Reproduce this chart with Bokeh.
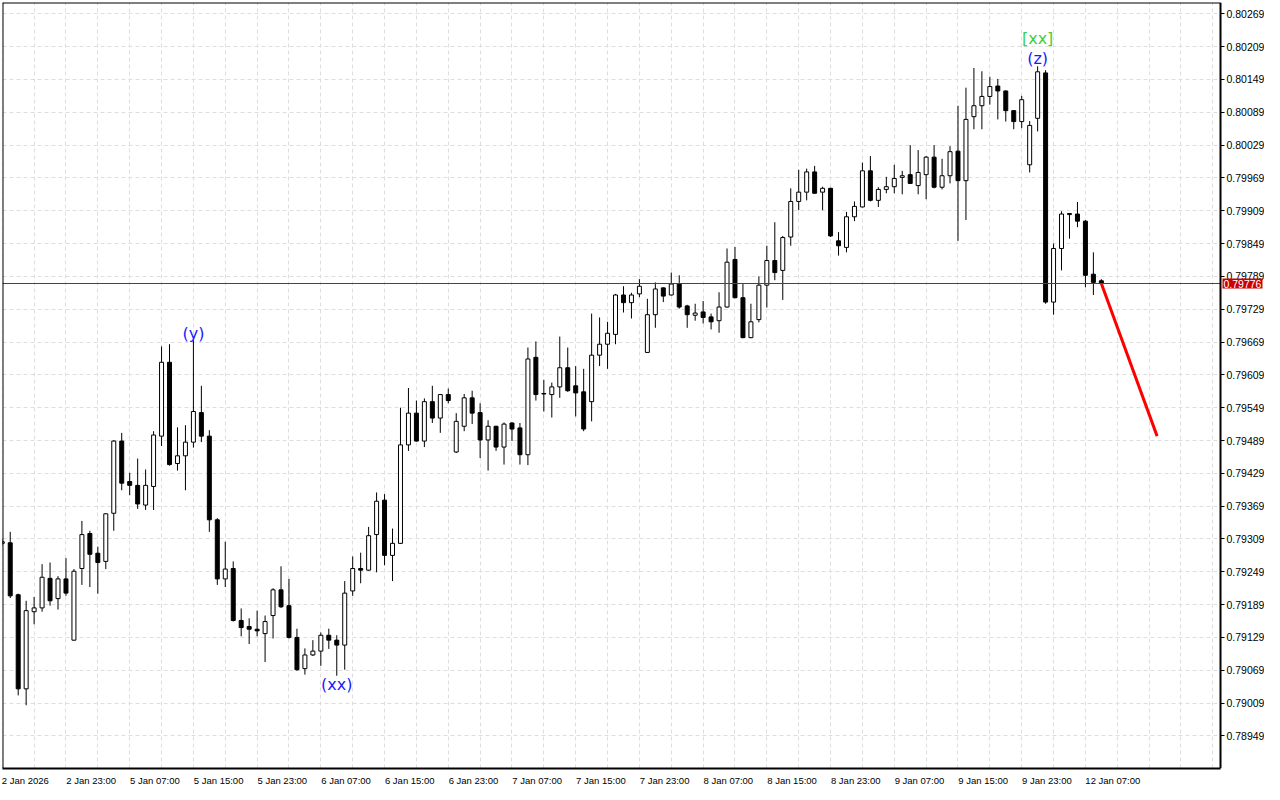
from bokeh.plotting import figure
from bokeh.models import ColumnDataSource, FixedTicker, Label, NumeralTickFormatter
from bokeh.core.properties import value
from bokeh.embed import file_html
from bokeh.resources import INLINE

# H1 bars, index 0 = 2 Jan 2026 15:00
opens = [0.79301, 0.79302, 0.79207, 0.79035, 0.79176, 0.79183, 0.79237, 0.79200, 0.79236, 0.79124,
         0.79255, 0.79319, 0.79283, 0.79268, 0.79356, 0.79488, 0.79414, 0.79407, 0.79371, 0.79405,
         0.79497, 0.79632, 0.79447, 0.79461, 0.79486, 0.79540, 0.79497, 0.79344, 0.79236, 0.79255,
         0.79160, 0.79149, 0.79144, 0.79136, 0.79169, 0.79216, 0.79187, 0.79129, 0.79072, 0.79097,
         0.79104, 0.79133, 0.79124, 0.79115, 0.79214, 0.79255, 0.79252, 0.79317, 0.79380, 0.79279,
         0.79301, 0.79481, 0.79539, 0.79488, 0.79560, 0.79530, 0.79573, 0.79468, 0.79515, 0.79567,
         0.79540, 0.79490, 0.79515, 0.79477, 0.79521, 0.79512, 0.79463, 0.79641, 0.79575, 0.79573,
         0.79587, 0.79622, 0.79589, 0.79578, 0.79560, 0.79645, 0.79665, 0.79683, 0.79755, 0.79741,
         0.79757, 0.79650, 0.79719, 0.79768, 0.79755, 0.79775, 0.79735, 0.79718, 0.79724, 0.79715,
         0.79708, 0.79733, 0.79820, 0.79750, 0.79677, 0.79710, 0.79773, 0.79818, 0.79800, 0.79861,
         0.79926, 0.79943, 0.79980, 0.79943, 0.79950, 0.79854, 0.79842, 0.79898, 0.79916, 0.79982,
         0.79928, 0.79948, 0.79953, 0.79970, 0.79975, 0.79955, 0.79975, 0.80007, 0.79952, 0.79973,
         0.80018, 0.79964, 0.80081, 0.80101, 0.80118, 0.80137, 0.80128, 0.80092, 0.80072, 0.79993,
         0.80078, 0.80161, 0.79742, 0.79840, 0.79902, 0.79903, 0.79890, 0.79793, 0.79781]
highs = [0.79310, 0.79322, 0.79209, 0.79196, 0.79203, 0.79263, 0.79266, 0.79241, 0.79274, 0.79254,
         0.79342, 0.79324, 0.79295, 0.79356, 0.79490, 0.79503, 0.79430, 0.79456, 0.79436, 0.79506,
         0.79661, 0.79665, 0.79513, 0.79517, 0.79672, 0.79589, 0.79508, 0.79347, 0.79304, 0.79268,
         0.79182, 0.79164, 0.79178, 0.79169, 0.79219, 0.79259, 0.79236, 0.79145, 0.79109, 0.79124,
         0.79138, 0.79145, 0.79133, 0.79232, 0.79277, 0.79284, 0.79331, 0.79394, 0.79391, 0.79328,
         0.79549, 0.79585, 0.79562, 0.79566, 0.79589, 0.79574, 0.79584, 0.79539, 0.79574, 0.79580,
         0.79557, 0.79526, 0.79516, 0.79522, 0.79522, 0.79521, 0.79659, 0.79670, 0.79600, 0.79595,
         0.79679, 0.79659, 0.79625, 0.79620, 0.79721, 0.79714, 0.79706, 0.79757, 0.79771, 0.79759,
         0.79784, 0.79748, 0.79778, 0.79769, 0.79796, 0.79791, 0.79737, 0.79739, 0.79744, 0.79721,
         0.79760, 0.79840, 0.79843, 0.79775, 0.79739, 0.79789, 0.79845, 0.79888, 0.79863, 0.79950,
         0.79984, 0.79986, 0.79991, 0.79953, 0.79951, 0.79870, 0.79907, 0.79926, 0.79997, 0.80009,
         0.79952, 0.79971, 0.79993, 0.79982, 0.80029, 0.80020, 0.80009, 0.80029, 0.80004, 0.80027,
         0.80101, 0.80134, 0.80170, 0.80164, 0.80154, 0.80150, 0.80129, 0.80093, 0.80119, 0.80073,
         0.80173, 0.80166, 0.79849, 0.79908, 0.79905, 0.79925, 0.79892, 0.79833, 0.79784]
lows = [0.79297, 0.79201, 0.79023, 0.79005, 0.79153, 0.79176, 0.79187, 0.79180, 0.79205, 0.79123,
        0.79225, 0.79221, 0.79209, 0.79254, 0.79324, 0.79398, 0.79389, 0.79364, 0.79362, 0.79362,
        0.79479, 0.79443, 0.79434, 0.79398, 0.79476, 0.79486, 0.79322, 0.79225, 0.79221, 0.79158,
        0.79131, 0.79117, 0.79131, 0.79084, 0.79127, 0.79183, 0.79127, 0.79068, 0.79061, 0.79095,
        0.79077, 0.79108, 0.79059, 0.79070, 0.79205, 0.79228, 0.79251, 0.79248, 0.79261, 0.79232,
        0.79300, 0.79470, 0.79487, 0.79477, 0.79521, 0.79503, 0.79557, 0.79466, 0.79506, 0.79519,
        0.79457, 0.79434, 0.79470, 0.79445, 0.79488, 0.79445, 0.79444, 0.79562, 0.79542, 0.79531,
        0.79567, 0.79578, 0.79533, 0.79506, 0.79524, 0.79625, 0.79620, 0.79665, 0.79723, 0.79712,
        0.79751, 0.79649, 0.79695, 0.79742, 0.79754, 0.79730, 0.79695, 0.79708, 0.79703, 0.79692,
        0.79686, 0.79732, 0.79749, 0.79676, 0.79676, 0.79705, 0.79732, 0.79782, 0.79746, 0.79845,
        0.79910, 0.79928, 0.79940, 0.79910, 0.79861, 0.79827, 0.79833, 0.79890, 0.79915, 0.79926,
        0.79916, 0.79941, 0.79941, 0.79939, 0.79958, 0.79939, 0.79930, 0.79950, 0.79948, 0.79959,
        0.79854, 0.79892, 0.80058, 0.80058, 0.80103, 0.80076, 0.80072, 0.80058, 0.80060, 0.79979,
        0.80054, 0.79739, 0.79719, 0.79800, 0.79858, 0.79879, 0.79769, 0.79755, 0.79775]
closes = [0.79304, 0.79205, 0.79035, 0.79178, 0.79183, 0.79239, 0.79196, 0.79236, 0.79210, 0.79250,
          0.79317, 0.79281, 0.79266, 0.79355, 0.79488, 0.79411, 0.79407, 0.79373, 0.79407, 0.79499,
          0.79632, 0.79445, 0.79461, 0.79486, 0.79542, 0.79497, 0.79344, 0.79236, 0.79254, 0.79160,
          0.79147, 0.79144, 0.79141, 0.79158, 0.79216, 0.79185, 0.79129, 0.79070, 0.79097, 0.79104,
          0.79133, 0.79124, 0.79115, 0.79210, 0.79255, 0.79252, 0.79315, 0.79378, 0.79279, 0.79301,
          0.79481, 0.79539, 0.79488, 0.79560, 0.79530, 0.79573, 0.79562, 0.79524, 0.79567, 0.79539,
          0.79490, 0.79515, 0.79477, 0.79519, 0.79510, 0.79463, 0.79638, 0.79573, 0.79574, 0.79587,
          0.79622, 0.79580, 0.79576, 0.79510, 0.79645, 0.79665, 0.79685, 0.79755, 0.79741, 0.79755,
          0.79771, 0.79719, 0.79766, 0.79753, 0.79775, 0.79733, 0.79719, 0.79722, 0.79714, 0.79706,
          0.79733, 0.79815, 0.79750, 0.79677, 0.79706, 0.79773, 0.79818, 0.79796, 0.79860, 0.79926,
          0.79943, 0.79980, 0.79941, 0.79950, 0.79863, 0.79845, 0.79898, 0.79917, 0.79982, 0.79928,
          0.79948, 0.79953, 0.79968, 0.79973, 0.79959, 0.79979, 0.80007, 0.79952, 0.79973, 0.80017,
          0.79964, 0.80076, 0.80101, 0.80118, 0.80136, 0.80128, 0.80092, 0.80072, 0.80112, 0.80065,
          0.80163, 0.79742, 0.79840, 0.79903, 0.79904, 0.79890, 0.79791, 0.79778, 0.79776]

x_tick_bars = [0, 8, 16, 24, 32, 40, 48, 56, 64, 72, 80, 88, 96, 104, 112, 120, 128, 136]
x_tick_labels = ["2 Jan 2026", "2 Jan 23:00", "5 Jan 07:00", "5 Jan 15:00", "5 Jan 23:00",
                 "6 Jan 07:00", "6 Jan 15:00", "6 Jan 23:00", "7 Jan 07:00", "7 Jan 15:00",
                 "7 Jan 23:00", "8 Jan 07:00", "8 Jan 15:00", "8 Jan 23:00", "9 Jan 07:00",
                 "9 Jan 15:00", "9 Jan 23:00", "12 Jan 07:00"]
y_ticks = [0.78949, 0.79009, 0.79069, 0.79129, 0.79189, 0.79249, 0.79309, 0.79369, 0.79429,
           0.79489, 0.79549, 0.79609, 0.79669, 0.79729, 0.79789, 0.79849, 0.79909, 0.79969,
           0.80029, 0.80089, 0.80149, 0.80209, 0.80269]
last_price = 0.79776
proj_x = [138, 145]
proj_y = [0.79776, 0.79497]
wave_text = ["(y)", "(xx)", "(z)", "[xx]"]
wave_x = [24, 42, 130, 130]
wave_y = [0.79685, 0.79043, 0.80188, 0.80224]
wave_color = ["#1a1aff", "#1a1aff", "#1a1aff", "#3ccf3c"]

n = len(opens)
idx = list(range(n))
up = [c >= o for o, c in zip(opens, closes)]
src = ColumnDataSource(dict(
    x=idx, high=highs, low=lows,
    top=[max(o, c) for o, c in zip(opens, closes)],
    bottom=[min(o, c) for o, c in zip(opens, closes)],
    fill=["white" if u else "black" for u in up],
))

# layout: chart area 1218 px wide, price scale drawn in the remaining 44 px of the frame
CW, FW, FH = 1218, 1262, 766
X0, XA = 0.03, 152.96                 # chart area in bars
px_per_bar = CW / (XA - X0)
X1 = X0 + FW / px_per_bar
Y0, Y1 = 0.788894, 0.802897

p = figure(frame_width=FW, frame_height=FH, x_range=(X0, X1), y_range=(Y0, Y1),
           y_axis_location="right", output_backend="svg", toolbar_location=None,
           min_border_left=2, min_border_top=2, min_border_right=0, min_border_bottom=0,
           background_fill_color="white", border_fill_color="white")
p.outline_line_color = None

# grids
p.xgrid.ticker = FixedTicker(ticks=list(range(0, 153, 4)))
for g in (p.xgrid, p.ygrid):
    g.grid_line_color = "#dedede"
    g.grid_line_dash = "4 3"
    g.grid_line_width = 1

# axes
label_pos = [round(b + (len(t) * 4.4 + 2) / 2 / px_per_bar, 3) for b, t in zip(x_tick_bars, x_tick_labels)]
yax = p.yaxis[0]
yax.fixed_location = XA
yax.ticker = FixedTicker(ticks=y_ticks)
yax.formatter = NumeralTickFormatter(format="0.00000")
xax = p.xaxis[0]
xax.ticker = FixedTicker(ticks=label_pos)
xax.major_label_overrides = {pos: t for pos, t in zip(label_pos, x_tick_labels)}
xax.bounds = (X0 - 1, XA)
for ax in (xax, yax):
    ax.axis_line_color = "black"
    ax.axis_line_width = 2
    ax.major_tick_line_color = "black"
    ax.major_tick_in = 0
    ax.major_tick_out = 4
    ax.minor_tick_line_color = None
    ax.major_label_text_font = "Liberation Sans"
    ax.major_label_text_color = "black"
    ax.major_label_standoff = 2
xax.major_label_text_font_size = "9.5px"
yax.major_label_text_font_size = "10.5px"
xax.major_tick_line_color = None

# candles
p.segment(x0="x", y0="low", x1="x", y1="high", source=src, line_color="black", line_width=1)
p.vbar(x="x", top="top", bottom="bottom", width=0.5, source=src,
       fill_color="fill", line_color="black", line_width=1)

# bid line
p.segment(x0=[X0], y0=[last_price], x1=[XA], y1=[last_price], line_color="#9a2020", line_width=1)

# projection
p.line(proj_x, proj_y, line_color="#ff0000", line_width=3)

# wave labels
p.text(x=wave_x, y=wave_y, text=wave_text, text_color=wave_color,
       text_font=value("DejaVu Sans"), text_font_size="16px",
       text_align="center", text_baseline="middle")

# chart border (top and left) and blank price-scale area
p.segment(x0=[X0, X0], y0=[Y1, Y0], x1=[XA, X0], y1=[Y1, Y1], line_color="black", line_width=2)
p.quad(left=[XA], right=[X1 + 1], bottom=[Y0 - 1], top=[Y1 + 1], fill_color="white", line_color=None)

# last price marker on the price scale
p.add_layout(Label(x=XA, y=last_price, x_offset=2,
                   text="0.79776", text_color="white", text_font="Liberation Sans",
                   text_font_size="10.5px", text_baseline="middle", text_align="left",
                   background_fill_color="#cc0000", padding=1))

open("out.html", "w").write(file_html(p, INLINE))
